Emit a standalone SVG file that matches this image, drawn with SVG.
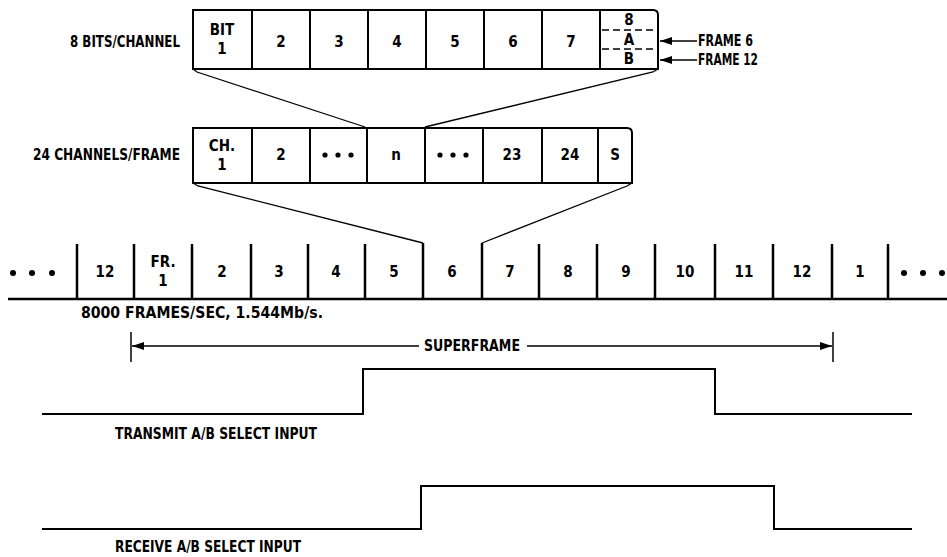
<svg xmlns="http://www.w3.org/2000/svg" width="947" height="557" viewBox="0 0 947 557">
<style>
text{font-family:"DejaVu Sans Condensed","Liberation Sans",sans-serif;font-weight:bold;font-size:15px;fill:#000;text-anchor:middle;dominant-baseline:central}
.lbl{text-anchor:start}
.box{fill:none;stroke:#000;stroke-width:2}
.div{stroke:#000;stroke-width:2}
.fdiv{stroke:#000;stroke-width:2.5}
.fan{stroke:#000;stroke-width:1.3;fill:none}
.sig{stroke:#000;stroke-width:2;fill:none}
.dash{stroke:#000;stroke-width:1.5;stroke-dasharray:7,4}
</style>
<defs>
<marker id="ah" viewBox="0 0 12 8" refX="12" refY="4" markerWidth="12" markerHeight="8" markerUnits="userSpaceOnUse" orient="auto">
<path d="M12,4 L0,0 L0,8 Z" fill="#000"/>
</marker>
</defs>

<g id="bits">
<text class="lbl" x="70" y="42" textLength="110" lengthAdjust="spacingAndGlyphs">8 BITS/CHANNEL</text>
<path class="box" d="M193,10 H653 Q658,10 658,15 V69 H193 Z"/>
<line class="div" x1="252" y1="10" x2="252" y2="69"/>
<line class="div" x1="310" y1="10" x2="310" y2="69"/>
<line class="div" x1="368" y1="10" x2="368" y2="69"/>
<line class="div" x1="426" y1="10" x2="426" y2="69"/>
<line class="div" x1="484" y1="10" x2="484" y2="69"/>
<line class="div" x1="542" y1="10" x2="542" y2="69"/>
<line class="div" x1="600" y1="10" x2="600" y2="69"/>
<line class="dash" x1="602" y1="30" x2="657" y2="30"/>
<line class="dash" x1="602" y1="49" x2="657" y2="49"/>
<text x="222" y="30">BIT</text>
<text x="222" y="49">1</text>
<text x="281" y="42">2</text>
<text x="339" y="42">3</text>
<text x="397" y="42">4</text>
<text x="455" y="42">5</text>
<text x="513" y="42">6</text>
<text x="571" y="42">7</text>
<text x="629" y="20" font-size="14">8</text>
<text x="629" y="40" font-size="14">A</text>
<text x="629" y="59" font-size="14">B</text>
</g>

<g id="frame-labels">
<line class="fan" x1="697" y1="41" x2="660" y2="41" marker-end="url(#ah)" style="stroke-width:1.5"/>
<line class="fan" x1="697" y1="60" x2="660" y2="60" marker-end="url(#ah)" style="stroke-width:1.5"/>
<text class="lbl" x="698" y="41" font-size="14" textLength="55" lengthAdjust="spacingAndGlyphs">FRAME 6</text>
<text class="lbl" x="698" y="60" font-size="14" textLength="60" lengthAdjust="spacingAndGlyphs">FRAME 12</text>
</g>

<g id="channels">
<text class="lbl" x="33" y="155" textLength="147" lengthAdjust="spacingAndGlyphs">24 CHANNELS/FRAME</text>
<path class="box" d="M193,128 H627 Q632,128 632,133 V183 H193 Z"/>
<line class="div" x1="252" y1="128" x2="252" y2="183"/>
<line class="div" x1="310" y1="128" x2="310" y2="183"/>
<line class="div" x1="367" y1="128" x2="367" y2="183"/>
<line class="div" x1="425" y1="128" x2="425" y2="183"/>
<line class="div" x1="483" y1="128" x2="483" y2="183"/>
<line class="div" x1="542" y1="128" x2="542" y2="183"/>
<line class="div" x1="598" y1="128" x2="598" y2="183"/>
<text x="222" y="146">CH.</text>
<text x="222" y="165">1</text>
<text x="281" y="155">2</text>
<circle cx="325" cy="155" r="2.6"/><circle cx="338" cy="155" r="2.6"/><circle cx="351" cy="155" r="2.6"/>
<text x="396" y="155">n</text>
<circle cx="440" cy="155" r="2.6"/><circle cx="453" cy="155" r="2.6"/><circle cx="466" cy="155" r="2.6"/>
<text x="512" y="155">23</text>
<text x="570" y="155">24</text>
<text x="615" y="155">S</text>
</g>

<g id="connectors">
<path class="fan" d="M193,69 L197,72 L365,127"/>
<path class="fan" d="M658,69 L653,72 L425,127"/>
<path class="fan" d="M193,183 L198,186 L423,243"/>
<path class="fan" d="M632,183 L627,186 L482,243"/>
</g>

<g id="frames">
<line class="sig" x1="8" y1="299" x2="947" y2="299" style="stroke-width:2.5"/>
<line class="fdiv" x1="77" y1="244" x2="77" y2="299"/>
<line class="fdiv" x1="134" y1="244" x2="134" y2="299"/>
<line class="fdiv" x1="192" y1="244" x2="192" y2="299"/>
<line class="fdiv" x1="251" y1="244" x2="251" y2="299"/>
<line class="fdiv" x1="308" y1="244" x2="308" y2="299"/>
<line class="fdiv" x1="365" y1="244" x2="365" y2="299"/>
<line class="fdiv" x1="423" y1="243" x2="423" y2="299"/>
<line class="fdiv" x1="482" y1="243" x2="482" y2="299"/>
<line class="fdiv" x1="539" y1="244" x2="539" y2="299"/>
<line class="fdiv" x1="597" y1="244" x2="597" y2="299"/>
<line class="fdiv" x1="655" y1="244" x2="655" y2="299"/>
<line class="fdiv" x1="715" y1="244" x2="715" y2="299"/>
<line class="fdiv" x1="773" y1="244" x2="773" y2="299"/>
<line class="fdiv" x1="832" y1="244" x2="832" y2="299"/>
<line class="fdiv" x1="888" y1="244" x2="888" y2="299"/>
<circle cx="13" cy="273" r="3"/><circle cx="32" cy="273" r="3"/><circle cx="52" cy="273" r="3"/>
<text x="105" y="272">12</text>
<text x="163" y="262">FR.</text>
<text x="163" y="281">1</text>
<text x="222" y="272">2</text>
<text x="279" y="272">3</text>
<text x="336" y="272">4</text>
<text x="394" y="272">5</text>
<text x="452" y="272">6</text>
<text x="510" y="272">7</text>
<text x="568" y="272">8</text>
<text x="626" y="272">9</text>
<text x="685" y="272">10</text>
<text x="744" y="272">11</text>
<text x="802" y="272">12</text>
<text x="860" y="272">1</text>
<circle cx="904" cy="273" r="3"/><circle cx="923" cy="273" r="3"/><circle cx="942" cy="273" r="3"/>
<text class="lbl" x="81" y="313" textLength="242" lengthAdjust="spacingAndGlyphs">8000 FRAMES/SEC, 1.544Mb/s.</text>
</g>

<g id="superframe">
<line class="sig" x1="131" y1="332" x2="131" y2="362" style="stroke-width:1.5"/>
<line class="sig" x1="833" y1="332" x2="833" y2="362" style="stroke-width:1.5"/>
<line class="fan" x1="419" y1="346" x2="132" y2="346" marker-end="url(#ah)"/>
<line class="fan" x1="527" y1="346" x2="832" y2="346" marker-end="url(#ah)"/>
<text x="472" y="346" textLength="96" lengthAdjust="spacingAndGlyphs">SUPERFRAME</text>
</g>

<g id="transmit">
<path class="sig" d="M42,414 H363 V369 H715 V414 H912"/>
<text class="lbl" x="115" y="434" textLength="202" lengthAdjust="spacingAndGlyphs">TRANSMIT A/B SELECT INPUT</text>
</g>

<g id="receive">
<path class="sig" d="M42,529 H421 V486 H774 V529 H912"/>
<text class="lbl" x="115" y="547" textLength="186" lengthAdjust="spacingAndGlyphs">RECEIVE A/B SELECT INPUT</text>
</g>
</svg>
